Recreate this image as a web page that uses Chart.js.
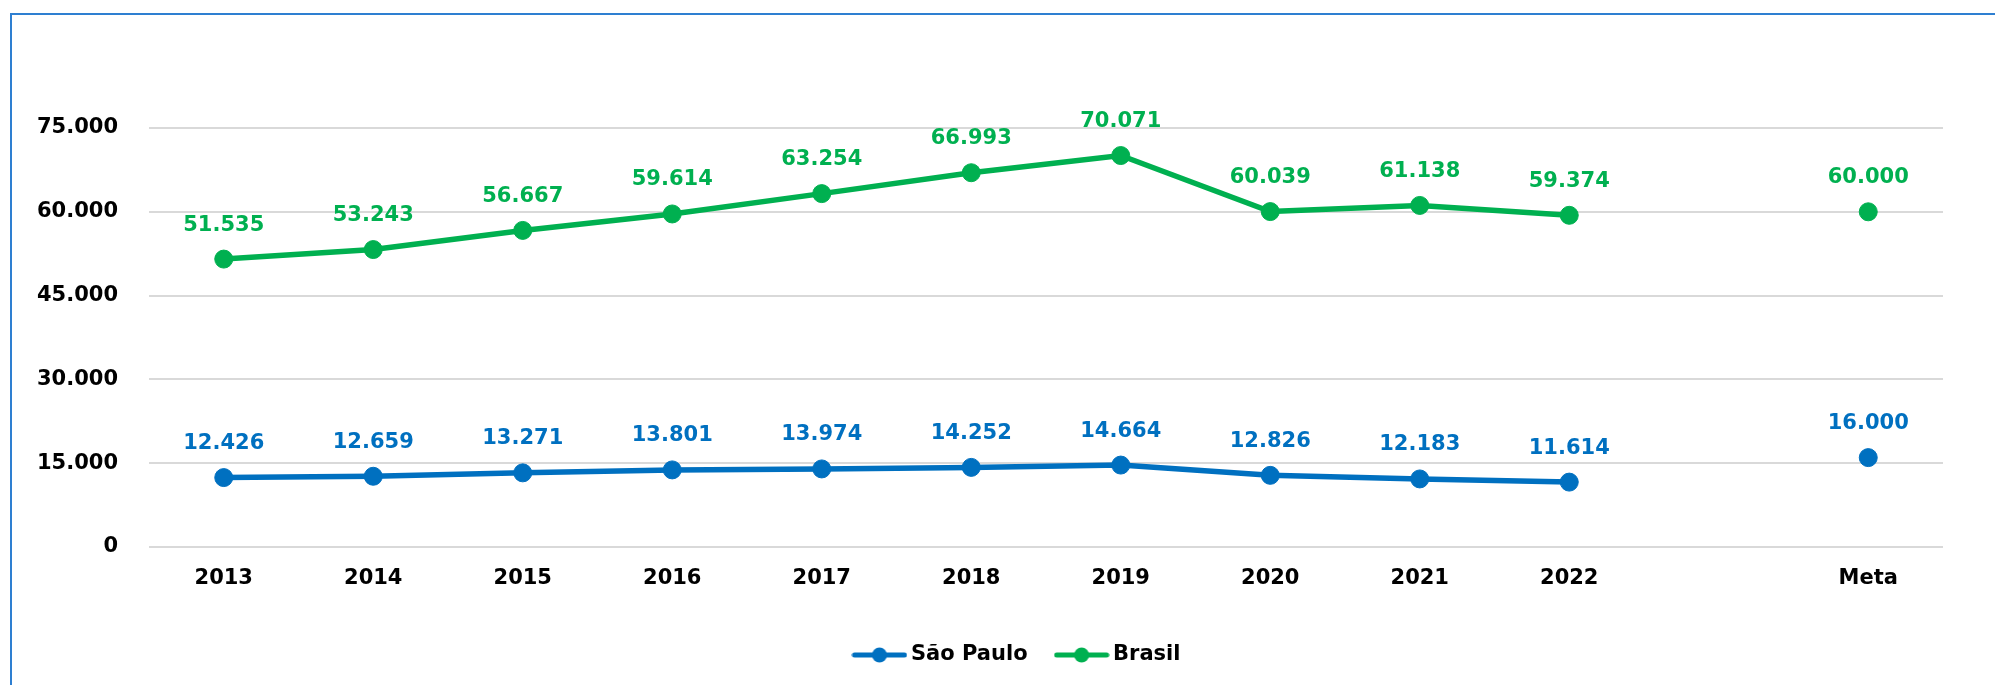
<!DOCTYPE html>
<html>
<head>
<meta charset="utf-8">
<script src="https://cdn.jsdelivr.net/npm/chart.js@4"></script>
<style>
  html, body { margin: 0; padding: 0; background: #fff; }
  #wrap { position: relative; width: 1995px; height: 685px; overflow: hidden; }
  #frame {
    position: absolute; left: 10px; top: 13px; width: 3000px; height: 3000px;
    border-left: 2px solid #2e7fd1; border-top: 2px solid #2e7fd1;
  }
  canvas { position: absolute; left: 0; top: 0; }
</style>
</head>
<body>
<div id="wrap">
  <div id="frame"></div>
  <canvas id="chart" width="1995" height="685"></canvas>
</div>
<script>
const categories = ['2013', '2014', '2015', '2016', '2017', '2018', '2019', '2020', '2021', '2022', '', 'Meta'];
const saoPaulo = [12426, 12659, 13271, 13801, 13974, 14252, 14664, 12826, 12183, 11614, null, 16000];
const brasil = [51535, 53243, 56667, 59614, 63254, 66993, 70071, 60039, 61138, 59374, null, 60000];
const yTicks = [0, 15000, 30000, 45000, 60000, 75000];

const blue = '#0070C0';
const green = '#00B050';

function fmt(v) {
    return String(v).replace(/\B(?=(\d{3})+(?!\d))/g, '.');
}

// legend marker: line with a dot in the middle
function makeMarker(color) {
    const c = document.createElement('canvas');
    c.width = 56;
    c.height = 20;
    const g = c.getContext('2d');
    g.strokeStyle = color;
    g.lineWidth = 5;
    g.lineCap = 'round';
    g.beginPath();
    g.moveTo(3, 10);
    g.lineTo(53, 10);
    g.stroke();
    g.fillStyle = color;
    g.beginPath();
    g.arc(28, 10, 7.5, 0, Math.PI * 2);
    g.fill();
    return c;
}
const markers = [makeMarker(blue), makeMarker(green)];

const valueLabels = {
    id: 'valueLabels',
    afterDatasetsDraw(chart) {
        const ctx = chart.ctx;
        ctx.save();
        ctx.font = 'bold 21px "DejaVu Sans"';
        ctx.textAlign = 'center';
        ctx.textBaseline = 'middle';
        chart.data.datasets.forEach((ds, di) => {
            const meta = chart.getDatasetMeta(di);
            ctx.fillStyle = ds.borderColor;
            meta.data.forEach((pt, i) => {
                const v = ds.data[i];
                if (v === null) return;
                ctx.fillText(fmt(v), pt.x, pt.y - 34);
            });
        });
        ctx.restore();
    }
};

// nudge the legend a bit to the right, like in the original
const legendShift = {
    id: 'legendShift',
    afterLayout(chart) {
        chart.legend.left += 48;
        chart.legend.right += 48;
    }
};

Chart.defaults.font.family = '"DejaVu Sans", sans-serif';
Chart.defaults.font.size = 21;
Chart.defaults.font.weight = 'bold';
Chart.defaults.color = '#000';

new Chart(document.getElementById('chart'), {
    type: 'line',
    data: {
        labels: categories,
        datasets: [{
            label: 'São Paulo',
            data: saoPaulo,
            borderColor: blue,
            backgroundColor: blue,
            borderWidth: 5.5,
            pointRadius: 9,
            pointBorderWidth: 1,
            pointBackgroundColor: blue,
            pointBorderColor: blue,
            spanGaps: false,
            tension: 0
        }, {
            label: 'Brasil',
            data: brasil,
            borderColor: green,
            backgroundColor: green,
            borderWidth: 5.5,
            pointRadius: 9,
            pointBorderWidth: 1,
            pointBackgroundColor: green,
            pointBorderColor: green,
            spanGaps: false,
            tension: 0
        }]
    },
    options: {
        responsive: false,
        animation: false,
        layout: { padding: { left: 0, right: 52, top: 128, bottom: 9.5 } },
        plugins: {
            tooltip: { enabled: false },
            legend: {
                position: 'bottom',
                labels: {
                    usePointStyle: true,
                    pointStyleWidth: 42,
                    padding: 33,
                    font: { size: 21, weight: 'bold' },
                    color: '#000',
                    generateLabels(chart) {
                        return Chart.defaults.plugins.legend.labels.generateLabels(chart)
                            .map((it, i) => Object.assign(it, { pointStyle: markers[i] }));
                    }
                }
            }
        },
        scales: {
            x: {
                offset: true,
                grid: { display: false, drawTicks: false },
                border: { display: false },
                ticks: { padding: 19, maxRotation: 0, autoSkip: false },
                afterFit(scale) { scale.height = 64.5; }
            },
            y: {
                min: 0,
                max: 75000,
                afterBuildTicks(scale) { scale.ticks = yTicks.map(v => ({ value: v })); },
                grid: { color: '#d9d9d9', lineWidth: 2, drawTicks: false },
                border: { display: false },
                ticks: { padding: 31, callback: v => fmt(v) },
                afterFit(scale) { scale.width = 149; }
            }
        }
    },
    plugins: [valueLabels, legendShift]
});
</script>
</body>
</html>
